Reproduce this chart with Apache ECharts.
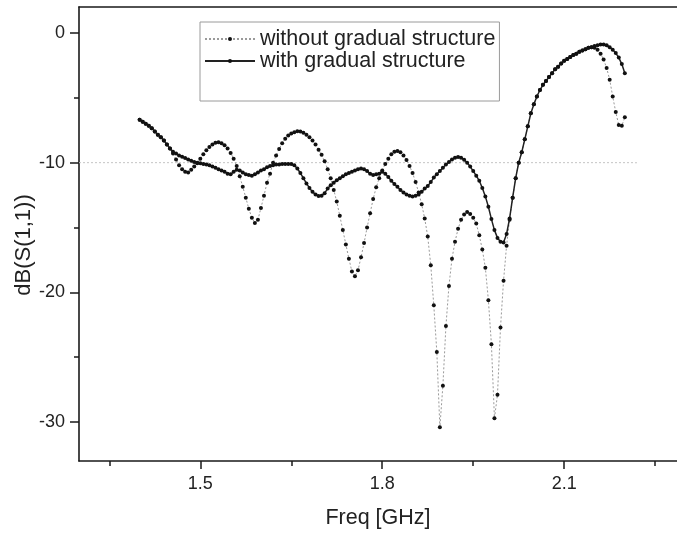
<!DOCTYPE html>
<html>
<head>
<meta charset="utf-8">
<title>dB(S(1,1))</title>
<script src="https://cdn.jsdelivr.net/npm/echarts@6.0.0/dist/echarts.min.js"></script>
<style>
    html, body {margin: 0; padding: 0; background: #fff;}
    #chartS11 {width: 677px; height: 536px;}
</style>
</head>
<body>
<div id="chartS11"></div>
<script>
// frequency sweep [GHz]
var freq = [
    1.400, 1.405, 1.410, 1.415, 1.420, 1.425, 1.430, 1.435, 1.440, 1.445,
    1.450, 1.455, 1.460, 1.465, 1.470, 1.475, 1.480, 1.485, 1.490, 1.495,
    1.500, 1.505, 1.510, 1.515, 1.520, 1.525, 1.530, 1.535, 1.540, 1.545,
    1.550, 1.555, 1.560, 1.565, 1.570, 1.575, 1.580, 1.585, 1.590, 1.595,
    1.600, 1.605, 1.610, 1.615, 1.620, 1.625, 1.630, 1.635, 1.640, 1.645,
    1.650, 1.655, 1.660, 1.665, 1.670, 1.675, 1.680, 1.685, 1.690, 1.695,
    1.700, 1.705, 1.710, 1.715, 1.720, 1.725, 1.730, 1.735, 1.740, 1.745,
    1.750, 1.755, 1.760, 1.765, 1.770, 1.775, 1.780, 1.785, 1.790, 1.795,
    1.800, 1.805, 1.810, 1.815, 1.820, 1.825, 1.830, 1.835, 1.840, 1.845,
    1.850, 1.855, 1.860, 1.865, 1.870, 1.875, 1.880, 1.885, 1.890, 1.895,
    1.900, 1.905, 1.910, 1.915, 1.920, 1.925, 1.930, 1.935, 1.940, 1.945,
    1.950, 1.955, 1.960, 1.965, 1.970, 1.975, 1.980, 1.985, 1.990, 1.995,
    2.000, 2.005, 2.010, 2.015, 2.020, 2.025, 2.030, 2.035, 2.040, 2.045,
    2.050, 2.055, 2.060, 2.065, 2.070, 2.075, 2.080, 2.085, 2.090, 2.095,
    2.100, 2.105, 2.110, 2.115, 2.120, 2.125, 2.130, 2.135, 2.140, 2.145,
    2.150, 2.155, 2.160, 2.165, 2.170, 2.175, 2.180, 2.185, 2.190, 2.195,
    2.200
];

// without gradual structure, dB(S(1,1))
var s11Without = [
    -6.7, -6.85, -7.0, -7.15, -7.35, -7.6, -7.85, -8.05, -8.3, -8.6,
    -8.9, -9.3, -9.75, -10.2, -10.5, -10.7, -10.75, -10.55, -10.3, -10.05,
    -9.7, -9.35, -9.05, -8.8, -8.6, -8.47, -8.43, -8.5, -8.65, -8.9,
    -9.25, -9.7, -10.25, -11.05, -11.85, -12.7, -13.55, -14.25, -14.65, -14.4,
    -13.5, -12.55, -11.55, -10.85, -10.0, -9.45, -8.95, -8.5, -8.15, -7.9,
    -7.75, -7.65, -7.58, -7.6, -7.7, -7.85, -8.05, -8.3, -8.6, -9.0,
    -9.4, -9.9, -10.5, -11.2, -12.1, -13.0, -14.1, -15.2, -16.3, -17.4,
    -18.4, -18.75, -18.3, -17.3, -16.2, -15.0, -13.9, -12.8, -11.9, -11.2,
    -10.6, -10.1, -9.7, -9.35, -9.15, -9.1, -9.2, -9.45, -9.8, -10.25,
    -10.8, -11.5, -12.3, -13.2, -14.3, -15.7, -17.9, -21.0, -24.6, -30.4,
    -27.2, -22.6, -19.5, -17.4, -16.1, -15.1, -14.4, -14.0, -13.8, -13.95,
    -14.25, -14.7, -15.6, -16.7, -18.1, -20.6, -24.0, -29.7, -27.9, -22.7,
    -19.1, -16.4, -14.4, -12.7, -11.2, -10.0, -9.2, -8.2, -7.2, -6.2,
    -5.5, -4.9, -4.4, -4.0, -3.7, -3.4, -3.1, -2.8, -2.6, -2.35,
    -2.15, -2.0, -1.85, -1.7, -1.6, -1.45, -1.35, -1.25, -1.15, -1.1,
    -1.15, -1.3, -1.6, -2.05, -2.7, -3.6, -4.9, -6.1, -7.1, -7.15,
    -6.5
];

// with gradual structure, dB(S(1,1))
var s11With = [
    -6.7, -6.85, -7.0, -7.15, -7.35, -7.6, -7.85, -8.05, -8.3, -8.6,
    -8.9, -9.15, -9.3, -9.45, -9.55, -9.65, -9.75, -9.85, -9.95, -10.0,
    -10.05, -10.1, -10.15, -10.2, -10.3, -10.4, -10.5, -10.6, -10.7, -10.85,
    -10.9, -10.7, -10.55, -10.6, -10.75, -10.9, -10.95, -11.0, -10.9, -10.75,
    -10.6, -10.5, -10.35, -10.25, -10.2, -10.15, -10.15, -10.1, -10.1, -10.1,
    -10.1, -10.2, -10.45, -10.8, -11.2, -11.6, -11.95, -12.25, -12.45, -12.58,
    -12.55, -12.35, -12.0, -11.75, -11.55, -11.35, -11.2, -11.05, -10.9, -10.8,
    -10.7, -10.6, -10.5, -10.45, -10.5, -10.65, -10.85, -10.95, -10.9, -10.85,
    -10.7, -10.85, -11.1, -11.4, -11.65, -11.85, -12.1, -12.3, -12.45, -12.55,
    -12.6, -12.55, -12.45, -12.25, -12.0, -11.8, -11.5, -11.15, -10.9, -10.65,
    -10.4, -10.15, -9.95, -9.75, -9.62, -9.57, -9.62, -9.78, -10.0, -10.3,
    -10.65, -11.0, -11.4, -11.95, -12.6, -13.4, -14.35, -15.2, -15.8, -16.1,
    -16.15, -15.5, -14.3, -12.7, -11.2, -10.0, -9.2, -8.2, -7.2, -6.2,
    -5.5, -4.9, -4.4, -4.0, -3.7, -3.4, -3.1, -2.8, -2.6, -2.35,
    -2.15, -2.0, -1.85, -1.7, -1.6, -1.45, -1.35, -1.25, -1.15, -1.1,
    -1.0, -0.95, -0.9, -0.9, -0.95, -1.1, -1.3, -1.55, -1.9, -2.4,
    -3.1
];

// -10 dB reference line
var refFreq = [1.3, 2.22];
var refLevel = [-10, -10];

// ticks and labels
var xLabels = [1.5, 1.8, 2.1];
var xMinorTicks = [1.35, 1.65, 1.95, 2.25];
var yLabels = [0, -10, -20, -30];
var yMinorTicks = [-5, -15, -25];

var seriesNames = ['without gradual structure', 'with gradual structure'];

/**
 * S11 chart singleton
 */
S11 = {
    chart: null,
    font: 'Arial, "Liberation Sans", sans-serif'
};

/**
 * zip x/y arrays into [x, y] pairs
 */
S11.pairs = function (xs, ys) {
    var out = [];
    for (var i = 0; i < xs.length; i++) {
        out.push([xs[i], ys[i]]);
    }
    return out;
};

S11.init = function () {
    var font = S11.font;
    var axisBlack = {color: '#1a1a1a', width: 1.6};
    var tickBlack = {color: '#1a1a1a', width: 1.5};
    S11.chart = echarts.init(document.getElementById('chartS11'), null, {renderer: 'canvas'});
    S11.chart.setOption({
        animation: false,
        backgroundColor: '#fff',
        grid: {left: 79, right: 0, top: 7, bottom: 75, containLabel: false, outerBoundsMode: 'none'},
        legend: {
            data: seriesNames,
            orient: 'vertical',
            left: 200,
            top: 22,
            itemWidth: 50,
            itemHeight: 5,
            itemGap: 0,
            padding: [6, 4, 29, 4],
            borderColor: '#9a9a9a',
            borderWidth: 1,
            textStyle: {fontFamily: font, fontSize: 21.5, lineHeight: 21, color: '#222'}
        },
        xAxis: [
            {
                type: 'value', min: 1.3, max: 2.286, position: 'bottom',
                name: 'Freq [GHz]', nameLocation: 'middle', nameGap: 46,
                nameTextStyle: {fontFamily: font, fontSize: 21.5, color: '#222'},
                axisLine: {show: true, onZero: false, lineStyle: axisBlack},
                axisTick: {show: true, inside: false, length: 8, customValues: xLabels, lineStyle: tickBlack},
                axisLabel: {
                    customValues: xLabels, margin: 14,
                    fontFamily: font, fontSize: 18, color: '#222',
                    formatter: function (v) { return v.toFixed(1); }
                },
                splitLine: {show: false}
            },
            {
                type: 'value', min: 1.3, max: 2.286, position: 'bottom',
                axisLine: {show: false, onZero: false},
                axisTick: {show: true, inside: false, length: 5, customValues: xMinorTicks, lineStyle: tickBlack},
                axisLabel: {show: false},
                splitLine: {show: false}
            },
            {
                // top frame
                type: 'value', min: 1.3, max: 2.286, position: 'top',
                axisLine: {show: true, onZero: false, lineStyle: axisBlack},
                axisTick: {show: false},
                axisLabel: {show: false},
                splitLine: {show: false}
            }
        ],
        yAxis: [
            {
                type: 'value', min: -33, max: 2, position: 'left',
                name: 'dB(S(1,1))', nameLocation: 'middle', nameGap: 44, nameMoveOverlap: false,
                nameTextStyle: {fontFamily: font, fontSize: 22, color: '#222', padding: [0, 22, 0, 0]},
                axisLine: {show: true, onZero: false, lineStyle: axisBlack},
                axisTick: {show: true, inside: false, length: 9, customValues: yLabels, lineStyle: tickBlack},
                axisLabel: {
                    customValues: yLabels, margin: 14,
                    fontFamily: font, fontSize: 18, color: '#222',
                    formatter: function (v) { return String(v); }
                },
                splitLine: {show: false}
            },
            {
                type: 'value', min: -33, max: 2, position: 'left',
                axisLine: {show: false, onZero: false},
                axisTick: {show: true, inside: false, length: 5, customValues: yMinorTicks, lineStyle: tickBlack},
                axisLabel: {show: false},
                splitLine: {show: false}
            }
        ],
        series: [
            {
                name: 'ref',
                type: 'line',
                data: S11.pairs(refFreq, refLevel),
                symbol: 'none',
                silent: true,
                z: 1,
                lineStyle: {color: '#c4c4c4', width: 1, type: [2, 2]}
            },
            {
                name: seriesNames[0],
                type: 'line',
                data: S11.pairs(freq, s11Without),
                symbol: 'circle',
                symbolSize: 4,
                z: 3,
                itemStyle: {color: '#111', borderWidth: 0},
                lineStyle: {color: '#9a9a9a', width: 1, type: [2, 2]}
            },
            {
                name: seriesNames[1],
                type: 'line',
                data: S11.pairs(freq, s11With),
                symbol: 'circle',
                symbolSize: 4,
                z: 4,
                itemStyle: {color: '#111', borderWidth: 0},
                lineStyle: {color: '#222', width: 1.5}
            }
        ]
    });
};

S11.init();
</script>
</body>
</html>
